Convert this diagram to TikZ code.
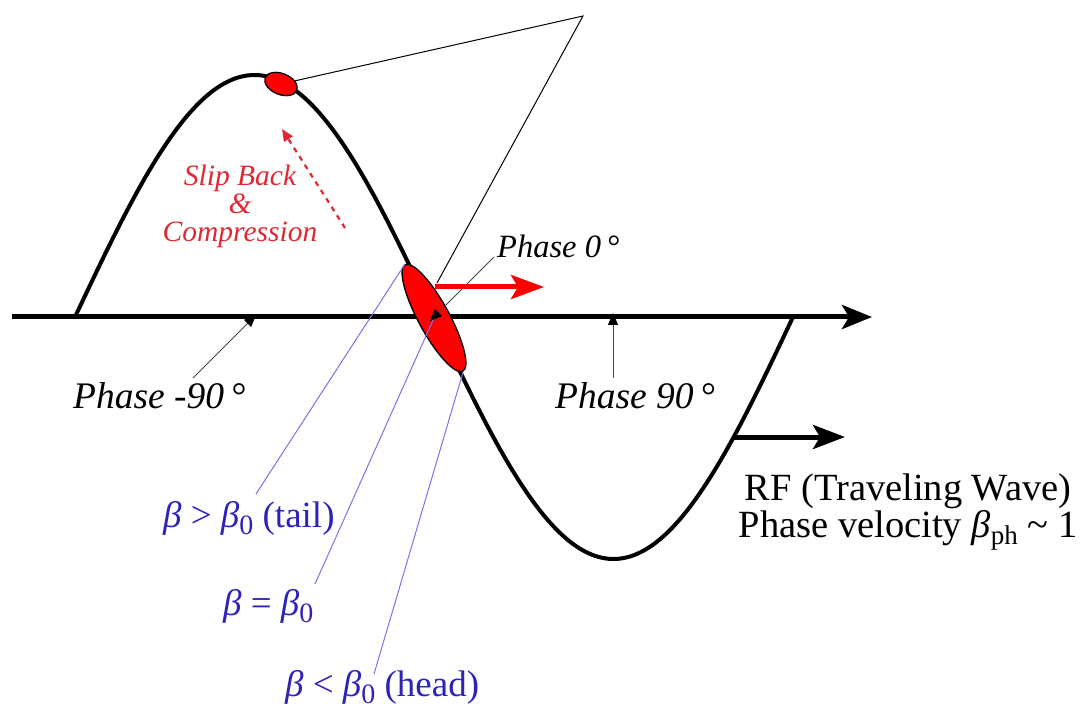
\documentclass[tikz,border=0pt]{standalone}
\usepackage{fontspec}
\setmainfont{Liberation Serif}
\usetikzlibrary{arrows.meta,shapes.geometric}
\definecolor{bunchred}{RGB}{255,0,0}
\definecolor{sliptxt}{RGB}{225,40,50}
\definecolor{betablue}{RGB}{45,35,185}
\definecolor{leaderblue}{RGB}{125,115,230}
\definecolor{leadergray}{RGB}{70,70,70}
\newcommand\lowsub[2]{\raisebox{-0.2em}{\fontsize{#1}{#1}\selectfont #2}}
\tikzset{
  wave/.style={line width=4pt, line cap=round},
  axisline/.style={line width=5pt, -{Stealth[length=30pt,width=24pt,inset=7pt]}},
  rfarrow/.style={line width=5pt, -{Stealth[length=32pt,width=24pt,inset=7pt]}},
  redarrow/.style={draw=bunchred, line width=5pt, -{Stealth[length=33pt,width=24pt,inset=7pt]}},
  sliparrow/.style={draw=sliptxt, line width=2.2pt, dash pattern=on 5pt off 5pt, -{Triangle[length=12pt,width=10pt]}},
  callout/.style={line width=1pt, black},
  leader/.style={line width=0.9pt, leadergray, -{Triangle[length=12pt,width=10pt,black]}},
  bleader/.style={line width=1pt, leaderblue},
  bunch/.style={ellipse, draw=black, line width=1.3pt, fill=bunchred, inner sep=0pt},
  blacklbl/.style={font=\fontsize{37.5}{40}\selectfont\itshape, inner sep=0pt, anchor=base west},
  bluelbl/.style={font=\fontsize{37}{40}\selectfont, text=betablue, inner sep=0pt, anchor=base west},
  slipbox/.style={font=\fontsize{29.5}{28}\selectfont\itshape, text=sliptxt, align=center, inner sep=0pt},
  rfbox/.style={font=\fontsize{38.5}{37}\selectfont, align=center, inner sep=0pt},
}
\begin{document}
\begin{tikzpicture}[x=1pt,y=-1pt]
\useasboundingbox (0,0) rectangle (1080,714);

% coordinates
\coordinate (axs) at (12,317);
\coordinate (axe) at (872,317);
\coordinate (apex) at (583,16);
\coordinate (callend) at (437,283);
\coordinate (tickm) at (256,315);
\coordinate (tickp) at (613,313);
\coordinate (lms) at (193,378);
\coordinate (lps) at (613,378);
\coordinate (p0s) at (494,257);
\coordinate (p0t) at (430,321);
\coordinate (rfs) at (733,437);
\coordinate (rfe) at (845,437);
\coordinate (ras) at (435,287);
\coordinate (rae) at (544,287);
\coordinate (sls) at (345,228);
\coordinate (sle) at (282,129);
\coordinate (bt1) at (256,494);
\coordinate (bt2) at (315,584);
\coordinate (bt3) at (374,674);

% wave and axis
\draw[wave] plot[domain=0:360,samples=150,smooth] ({75+\x*1.99444},{317-242*sin(\x)});
\draw[axisline] (axs) -- (axe);

% bunches
\node[bunch, minimum width=34pt, minimum height=21pt, rotate=-22] (pk) at (281,84) {};

% callout lines
\draw[callout] (pk) -- (apex) -- (callend);

\node[bunch, minimum width=121pt, minimum height=31pt, rotate=-61.5] (bunch) at (434,318) {};

% blue labels and leaders
\node[bluelbl] (tail) at (163,527) {{\itshape β} > {\itshape β}\lowsub{28}{0} (tail)};
\node[bluelbl] (equal) at (223,615) {{\itshape β} = {\itshape β}\lowsub{28}{0}};
\node[bluelbl] (head) at (285,696) {{\itshape β} < {\itshape β}\lowsub{28}{0} (head)};
\draw[bleader] (bt1) -- (bunch.west);
\draw[bleader] (bt2) -- (bunch.center);
\draw[bleader] (bt3) -- (bunch.east);

% phase labels
\node[blacklbl, font=\fontsize{32.5}{36}\selectfont\itshape] (ph0) at (497,258) {Phase 0\,°};
\node[blacklbl] (phm) at (73,408) {Phase -90\,°};
\node[blacklbl] (php) at (555,408) {Phase 90\,°};
\draw[leader] (p0s) -- (p0t);
\draw[leader] (lms) -- (tickm);
\draw[leader] (lps) -- (tickp);

% red arrows and slip back text
\draw[redarrow] (ras) -- (rae);
\draw[sliparrow] (sls) -- (sle);
\node[slipbox] (slip) at (240,206) {Slip Back\\\&\\Compression};

% RF
\draw[rfarrow] (rfs) -- (rfe);
\node[rfbox] (rf) at (908,512) {RF (Traveling Wave)\\Phase velocity {\itshape β}\lowsub{27}{ph} \textasciitilde{} 1};
\end{tikzpicture}
\end{document}
